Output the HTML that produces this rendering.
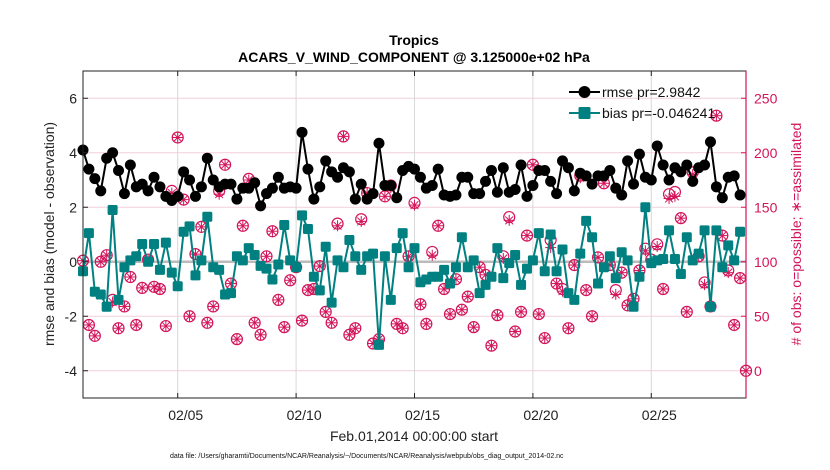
<!DOCTYPE html>
<html><head><meta charset="utf-8"><style>
body{margin:0;background:#fff;width:830px;height:470px;overflow:hidden}
svg{display:block;font-family:"Liberation Sans",sans-serif}
</style></head><body>
<svg id="c" width="830" height="470" viewBox="0 0 830 470">
<text x="414" y="45" text-anchor="middle" font-size="14" font-weight="bold">Tropics</text>
<text x="414" y="62" text-anchor="middle" font-size="14" font-weight="bold">ACARS_V_WIND_COMPONENT @ 3.125000e+02 hPa</text>
<g id="grid"></g><g id="series"></g><g id="axes"></g>
<text transform="translate(54,234) rotate(-90)" text-anchor="middle" font-size="14" fill="#222">rmse and bias (model - observation)</text>
<text transform="translate(801,234) rotate(-90)" text-anchor="middle" font-size="14" fill="#d4145a"># of obs: o=possible; ∗=assimilated</text>
<text x="414" y="441" text-anchor="middle" font-size="14" fill="#222">Feb.01,2014 00:00:00 start</text>
<text x="170" y="458" font-size="7" fill="#111">data file: /Users/gharamti/Documents/NCAR/Reanalysis/~/Documents/NCAR/Reanalysis/webpub/obs_diag_output_2014-02.nc</text>
</svg>
<script>
const rmse=[4.1,3.4,3.05,2.6,3.8,4.0,3.35,2.5,3.55,2.75,2.85,2.6,3.1,2.75,2.4,2.25,2.4,3.3,3.0,2.4,2.75,3.8,3.0,2.75,2.85,
2.85,2.3,2.7,2.7,2.9,2.05,2.5,2.7,3.1,2.7,2.75,2.7,4.75,3.4,2.3,2.75,3.7,3.3,3.1,3.45,3.3,2.3,2.85,2.3,2.5,4.35,2.8,
2.8,2.35,3.35,3.5,3.4,3.1,2.7,2.8,3.4,2.45,2.4,2.45,3.1,3.1,2.5,2.5,2.95,3.35,2.55,3.45,2.55,2.65,3.55,2.4,2.8,3.35,
3.35,2.95,2.5,3.7,3.45,2.6,3.25,3.15,2.85,3.15,3.15,3.35,2.7,2.45,3.7,2.85,3.95,3.1,3.0,
4.25,3.55,3.0,3.45,3.3,3.55,2.95,3.45,3.55,4.4,2.75,2.35,3.1,3.15,2.45];
const bias=[-0.35,1.05,-1.1,-1.2,-1.65,1.9,-1.4,-0.2,0.05,0.2,0.65,0,0.65,-0.3,0.7,-0.4,-0.9,1.1,1.3,-0.5,0.05,1.65,-0.2,-0.3,-1.2,
-1.15,0.2,0.05,0.5,0.25,-0.15,-0.25,-0.65,-0.1,1.35,0.05,-0.2,1.7,1.2,-0.55,-1.05,0.55,-1.5,0.05,-0.2,0.8,0.2,-0.3,0.2,0.3,-3.05,0.2,
-1.4,0.5,1.05,-0.2,0.5,-0.75,-0.65,-0.55,-0.55,-0.3,-0.8,-0.2,0.9,-0.2,0.05,-1.15,-0.85,-0.55,0.5,-0.6,-0.05,0.25,-0.85,-0.25,0.05,1.05,
-0.35,1.0,-0.35,0.45,-1.15,-1.4,0.3,1.5,0.9,-0.8,-0.2,0.2,-0.6,0.35,0.05,-1.65,-0.55,2.0,-0.05,0.05,0.1,1.15,0.1,-0.45,0.9,0.05,0.3,
1.15,-1.65,1.15,-0.2,0.6,0.05,1.1];
const obsPossible=[101,42,32,100,106,65,39,59,86,42,76,102,77,75,41,165,214,157,50,107,132,44,59,165,189,
80,29,133,176,44,33,105,128,65,40,83,95,46,74,75,96,54,44,135,215,33,39,139,163,25,29,160,
170,43,39,105,154,61,43,109,133,75,52,84,56,68,40,95,88,23,51,105,141,36,54,124,189,52,
30,120,80,75,39,97,179,74,50,104,172,97,74,90,60,66,92,112,102,116,75,162,164,140,54,182,105,81,59,234,124,92,42,85,0];
const obsAssim=[101,42,32,100,106,63,39,59,86,42,76,102,77,75,41,163,214,157,50,107,132,44,59,162,189,
80,29,133,175,44,33,105,128,65,40,83,95,46,74,75,96,54,44,133,215,33,39,137,163,25,29,160,
168,43,39,105,152,61,43,106,133,75,52,84,56,68,40,95,88,23,51,103,138,36,54,124,189,52,
30,113,80,73,39,97,177,74,50,104,172,97,70,90,60,66,92,110,100,114,75,158,160,140,54,180,105,79,59,234,124,90,42,85,0];
const leftTicks=[-4,-2,0,2,4,6];
const rightTicks=[0,50,100,150,200,250];
const xTicks=[5,10,15,20,25];
const xTickLabels=["02/05","02/10","02/15","02/20","02/25"];
const legendLabels=["rmse pr=2.9842","bias pr=-0.046241"];

const L=83,R=746,T=71,B=398;
const xs=d=>L+(d-1)/(29-1)*(R-L);
const ys=v=>B-(v+5)/12*(B-T);
const yr=c=>ys(c/25-4);
const dayOf=i=>1+i*0.25;
const NS="http://www.w3.org/2000/svg";
function mk(tag,attrs,parent){const e=document.createElementNS(NS,tag);for(const k in attrs)e.setAttribute(k,attrs[k]);parent.appendChild(e);return e;}
const grid=document.getElementById('grid'),ser=document.getElementById('series'),ax=document.getElementById('axes');
const PINK="#d4145a";
mk('rect',{x:L,y:T,width:R-L,height:B-T,fill:'#fff'},grid);
leftTicks.forEach(v=>{const l=mk('line',{x1:L,x2:R,y1:ys(v),y2:ys(v),stroke:'#f4cfdc','stroke-width':1},grid);
});
xTicks.forEach(d=>{const l=mk('line',{x1:xs(d),x2:xs(d),y1:T,y2:B,stroke:'#d8d8d8','stroke-width':1},grid);
});
const z=mk('line',{x1:L,x2:R,y1:ys(0),y2:ys(0),stroke:'#bbb','stroke-width':2.5},grid);

// obs markers
function obsMark(c,i,assim,g){const x=xs(dayOf(i)),y=yr(c);
 if(!assim){mk('circle',{cx:x,cy:y,r:5.5,fill:'none',stroke:PINK,'stroke-width':1.2},g);}
 else{for(let a=0;a<4;a++){const t=a*Math.PI/4;mk('line',{x1:x-5.5*Math.cos(t),y1:y-5.5*Math.sin(t),x2:x+5.5*Math.cos(t),y2:y+5.5*Math.sin(t),stroke:PINK,'stroke-width':1},g);}}}
const gp=mk('g',{},ser);
obsPossible.forEach((c,i)=>obsMark(c,i,false,gp));
const ga=mk('g',{},ser);
obsAssim.forEach((c,i)=>obsMark(c,i,true,ga));
// rmse
const gr=mk('g',{},ser);
mk('polyline',{points:rmse.map((v,i)=>xs(dayOf(i))+','+ys(v)).join(' '),fill:'none',stroke:'#000','stroke-width':2},gr);
rmse.forEach((v,i)=>{const c=mk('circle',{cx:xs(dayOf(i)),cy:ys(v),r:5.5,fill:'#000'},gr);
});
// bias
const gb=mk('g',{},ser);
mk('polyline',{points:bias.map((v,i)=>xs(dayOf(i))+','+ys(v)).join(' '),fill:'none',stroke:'#008080','stroke-width':2},gb);
bias.forEach((v,i)=>{const r=mk('rect',{x:xs(dayOf(i))-5,y:ys(v)-5,width:10,height:10,rx:1.5,fill:'#008080'},gb);
});
// legend
const lg=mk('g',{},ax);
[['#000','c'],['#008080','s']].forEach((s,k)=>{const y=92+k*21;
 const e=mk('g',{},lg);
 mk('line',{x1:569,x2:600,y1:y,y2:y,stroke:s[0],'stroke-width':2},e);
 if(s[1]=='c')mk('circle',{cx:584.5,cy:y,r:6,fill:s[0]},e);else mk('rect',{x:578.5,y:y-6,width:12,height:12,rx:1.5,fill:s[0]},e);
 const t=mk('text',{x:602,y:y+5,'font-size':14,fill:'#111'},e);t.textContent=legendLabels[k];});
// axes
const fr=mk('rect',{x:L,y:T,width:R-L,height:B-T,fill:'none',stroke:'#222','stroke-width':1},ax);

mk('line',{x1:R,x2:R,y1:T,y2:B,stroke:PINK,'stroke-width':1.2},ax);
leftTicks.forEach(v=>{mk('line',{x1:L,x2:L+5,y1:ys(v),y2:ys(v),stroke:'#222'},ax);
 const t=mk('text',{x:L-6,y:ys(v)+5,'text-anchor':'end','font-size':14,fill:'#222'},ax);t.textContent=v;
 });
rightTicks.forEach(c=>{mk('line',{x1:R-5,x2:R,y1:yr(c),y2:yr(c),stroke:PINK},ax);
 const t=mk('text',{x:R+8,y:yr(c)+5,'font-size':14,fill:PINK},ax);t.textContent=c;
 });
xTicks.forEach((d,k)=>{mk('line',{x1:xs(d),x2:xs(d),y1:B-5,y2:B,stroke:'#222'},ax);mk('line',{x1:xs(d),x2:xs(d),y1:T,y2:T+5,stroke:'#222'},ax);
 const t=mk('text',{x:xs(d)+8,y:420,'text-anchor':'middle','font-size':14,fill:'#222'},ax);t.textContent=xTickLabels[k];
 });
</script>
</body></html>
